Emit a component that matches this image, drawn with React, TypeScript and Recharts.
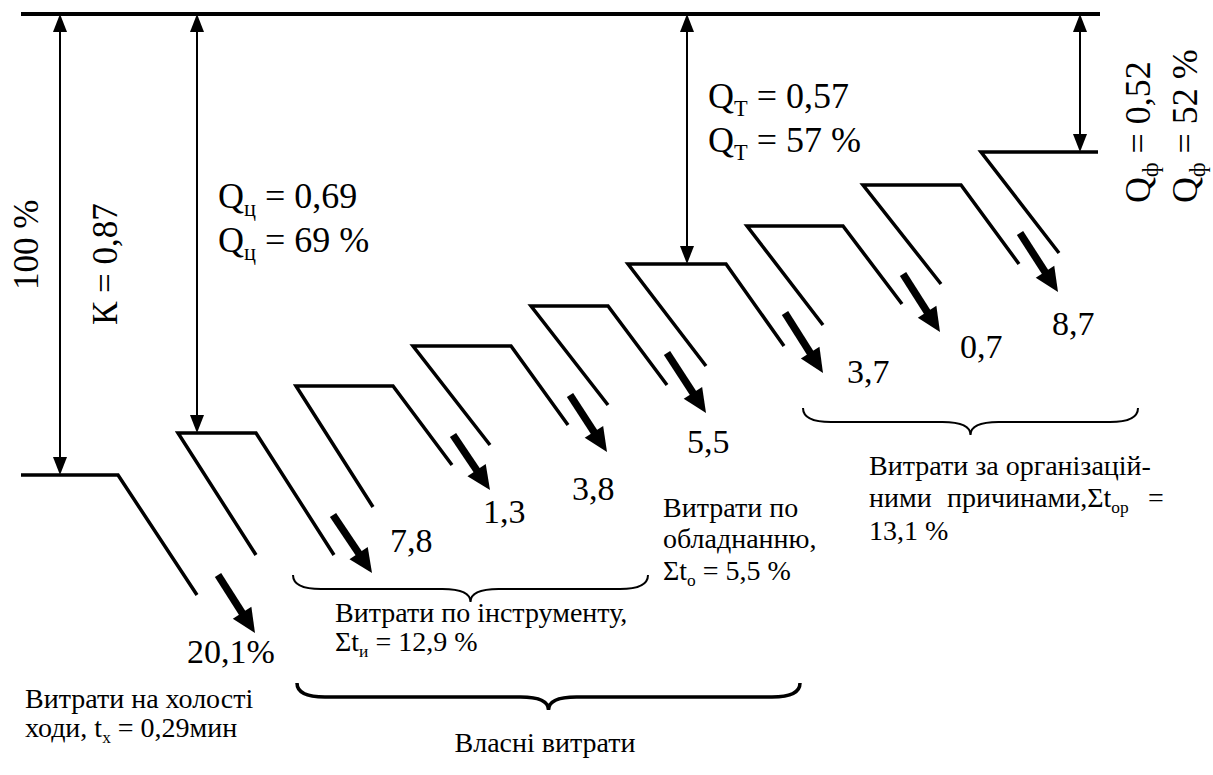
import React from 'react'
import { ComposedChart, Line, Scatter, XAxis, YAxis, ReferenceLine } from 'recharts'

const FONT = 'Liberation Serif'
const W = 1213
const H = 775

// losses carried away at each step, %
const lossLabels = ['20,1%', '7,8', '1,3', '3,8', '5,5', '3,7', '0,7', '8,7']

// coefficient captions (base, subscript, rest)
const coefLabels: [string, string, string][] = [
  ['Q', 'ц', ' = 0,69'],
  ['Q', 'ц', ' = 69 %'],
  ['Q', 'T', ' = 0,57'],
  ['Q', 'T', ' = 57 %'],
  ['Q', 'ф', ' = 0,52'],
  ['Q', 'ф', ' = 52 %'],
]
const sideLabels = ['100 %', 'К = 0,87']

// group captions, one entry per line: [text, subscript, rest]
const groupLines: [string, string, string][] = [
  ['Витрати по інструменту,', '', ''],
  ['Σt', 'и', ' = 12,9 %'],
  ['Витрати по', '', ''],
  ['обладнанню,', '', ''],
  ['Σt', 'о', ' = 5,5 %'],
  ['Витрати за організацій-', '', ''],
  ['ними', '', ''],
  ['причинами,Σt', 'ор', ''],
  ['=', '', ''],
  ['13,1 %', '', ''],
  ['Витрати на холості', '', ''],
  ['ходи, t', 'х', ' = 0,29мин'],
  ['Власні витрати', '', ''],
]

// ---- layout of the diagram (diagram units) ----
const stepLevel = [475, 433, 386, 346, 306, 264, 226, 185, 152]
const stepLeft = [21, 178, 296, 413, 531, 628, 747, 863, 981]
const stepRight = [118, 256, 393, 511, 608, 726, 843, 961, 1098]
const leftTail = [null, [256, 555], [373, 507], [490, 445], [608, 405], [706, 366], [823, 325], [941, 284], [1059, 253]]
const rightTail = [[197, 595], [334, 555], [452, 465], [568, 425], [667, 385], [784, 346], [902, 304], [1019, 264], null]

const lossFrom = [[218, 575], [333, 515], [453, 435], [570, 395], [667, 353], [785, 313], [903, 274], [1020, 233]]
const lossTo = [[255, 633], [372, 573], [490, 490], [607, 452], [706, 413], [823, 373], [940, 332], [1058, 292]]
const lossLabelPos = [[187, 663], [390, 552], [483, 523], [572, 500], [687, 453], [847, 383], [960, 358], [1052, 335]]

const topLevel = 14
const topFrom = 21
const topTo = 1100
const measureX = [60, 197, 687, 1080]
const measureTo = [475, 433, 264, 152]

const coefPos = [[218, 208, 0], [218, 252, 0], [708, 108, 0], [708, 152, 0], [1150, 203, -90], [1197, 203, -90]]
const sidePos = [[38, 290], [117, 325]]
const groupPos = [
  [335, 622], [335, 651],
  [663, 517], [663, 548], [663, 580],
  [869, 475], [869, 507], [947, 507], [1148, 507], [869, 540],
  [25, 708], [25, 737],
  [545, 752],
]

const braces = [
  { from: 293, to: 648, level: 575, width: 2 },
  { from: 803, to: 1138, level: 408, width: 2 },
  { from: 297, to: 800, level: 683, width: 3.5 },
]

type Pt = { x: number; y: number }

const stepLines: Pt[][] = stepLevel.map((lv, i) => {
  const pts: Pt[] = []
  const lt = leftTail[i]
  const rt = rightTail[i]
  if (lt) pts.push({ x: lt[0], y: lt[1] })
  pts.push({ x: stepLeft[i], y: lv })
  pts.push({ x: stepRight[i], y: lv })
  if (rt) pts.push({ x: rt[0], y: rt[1] })
  return pts
})

type TextItem = {
  x: number
  y: number
  parts: [string, string, string]
  fs: number
  rot?: number
  anchor?: string
}

const textItems: TextItem[] = [
  ...lossLabels.map((t, i) => ({
    x: lossLabelPos[i][0],
    y: lossLabelPos[i][1],
    parts: [t, '', ''] as [string, string, string],
    fs: 34,
  })),
  ...coefLabels.map((p, i) => ({
    x: coefPos[i][0],
    y: coefPos[i][1],
    rot: coefPos[i][2],
    parts: p,
    fs: 36,
  })),
  ...sideLabels.map((t, i) => ({
    x: sidePos[i][0],
    y: sidePos[i][1],
    rot: -90,
    parts: [t, '', ''] as [string, string, string],
    fs: 35,
  })),
  ...groupLines.map((p, i) => ({
    x: groupPos[i][0],
    y: groupPos[i][1],
    parts: p,
    fs: 28,
    anchor: i === groupLines.length - 1 ? 'middle' : 'start',
  })),
]

function TextShape(props: any) {
  const { cx, cy, payload } = props
  const { parts, fs, rot, anchor } = payload as TextItem
  const [base, sub, rest] = parts
  const shift = fs * 0.22
  const transform = rot ? `rotate(${rot} ${cx} ${cy})` : undefined
  if (!sub && !rest) {
    return (
      <text
        x={cx}
        y={cy}
        fill="#000"
        fontFamily={FONT}
        fontSize={fs}
        textAnchor={anchor || 'start'}
        transform={transform}
        style={{ fontFamily: FONT, fontSize: fs }}
      >
        {base}
      </text>
    )
  }
  return (
    <text
      x={cx}
      y={cy}
      fill="#000"
      fontFamily={FONT}
      fontSize={fs}
      textAnchor={anchor || 'start'}
      transform={transform}
      style={{ fontFamily: FONT, fontSize: fs }}
    >
      <tspan fontFamily={FONT}>{base}</tspan>
      {sub ? (
        <tspan dy={shift} fontFamily={FONT} fontSize={fs * 0.62} style={{ fontSize: fs * 0.62 }}>
          {sub}
        </tspan>
      ) : null}
      {rest ? (
        <tspan dy={sub ? -shift : 0} fontFamily={FONT}>
          {rest}
        </tspan>
      ) : null}
    </text>
  )
}

function MeasureArrow(props: any) {
  const { x1, y1, x2, y2 } = props
  const len = 18
  const half = 7
  const top = Math.min(y1, y2)
  const bot = Math.max(y1, y2)
  return (
    <g>
      <line x1={x1} y1={top + len - 2} x2={x2} y2={bot - len + 2} stroke="#000" strokeWidth={2} />
      <polygon points={`${x1},${top} ${x1 - half},${top + len} ${x1 + half},${top + len}`} fill="#000" />
      <polygon points={`${x1},${bot} ${x1 - half},${bot - len} ${x1 + half},${bot - len}`} fill="#000" />
    </g>
  )
}

function LossArrow(props: any) {
  const { x1, y1, x2, y2 } = props
  const dx = x2 - x1
  const dy = y2 - y1
  const l = Math.sqrt(dx * dx + dy * dy)
  const ux = dx / l
  const uy = dy / l
  const head = 24
  const half = 11
  const bx = x2 - ux * head
  const by = y2 - uy * head
  return (
    <g>
      <line x1={x1} y1={y1} x2={bx + ux * 2} y2={by + uy * 2} stroke="#000" strokeWidth={7.5} />
      <polygon
        points={`${x2},${y2} ${bx - uy * half},${by + ux * half} ${bx + uy * half},${by - ux * half}`}
        fill="#000"
      />
    </g>
  )
}

function Brace(props: any) {
  const { x1, y1, x2, width } = props
  const d = 14
  const tip = 13
  const q = 28
  const xm = (x1 + x2) / 2
  const yl = y1 + d
  const path =
    `M${x1},${y1} Q${x1},${yl} ${x1 + q},${yl} L${xm - q},${yl} Q${xm},${yl} ${xm},${yl + tip} ` +
    `Q${xm},${yl} ${xm + q},${yl} L${x2 - q},${yl} Q${x2},${yl} ${x2},${y1}`
  return <path d={path} fill="none" stroke="#000" strokeWidth={width} />
}

export default function App() {
  return (
    <div style={{ position: 'absolute', left: 0, top: 0, background: '#fff', fontFamily: FONT }}>
      <ComposedChart width={W} height={H} margin={{ top: 0, right: 0, bottom: 0, left: 0 }}>
        <XAxis type="number" dataKey="x" domain={[0, W]} hide allowDataOverflow />
        <YAxis type="number" dataKey="y" domain={[0, H]} reversed hide allowDataOverflow />

        <ReferenceLine
          segment={[{ x: topFrom, y: topLevel }, { x: topTo, y: topLevel }]}
          stroke="#000"
          strokeWidth={4}
        />

        {measureX.map((x, i) => (
          <ReferenceLine
            key={`m${i}`}
            segment={[{ x, y: topLevel }, { x, y: measureTo[i] }]}
            shape={(p: any) => <MeasureArrow {...p} />}
          />
        ))}

        {stepLines.map((pts, i) => (
          <Line
            key={`s${i}`}
            data={pts}
            dataKey="y"
            type="linear"
            stroke="#000"
            strokeWidth={3.5}
            strokeLinejoin="miter"
            dot={false}
            activeDot={false}
            isAnimationActive={false}
            legendType="none"
          />
        ))}

        {lossFrom.map((f, i) => (
          <ReferenceLine
            key={`a${i}`}
            segment={[{ x: f[0], y: f[1] }, { x: lossTo[i][0], y: lossTo[i][1] }]}
            shape={(p: any) => <LossArrow {...p} />}
          />
        ))}

        {braces.map((b, i) => (
          <ReferenceLine
            key={`b${i}`}
            segment={[{ x: b.from, y: b.level }, { x: b.to, y: b.level }]}
            shape={(p: any) => <Brace {...p} width={b.width} />}
          />
        ))}

        <Scatter data={textItems} dataKey="y" shape={(p: any) => <TextShape {...p} />} isAnimationActive={false} />
      </ComposedChart>
    </div>
  )
}
